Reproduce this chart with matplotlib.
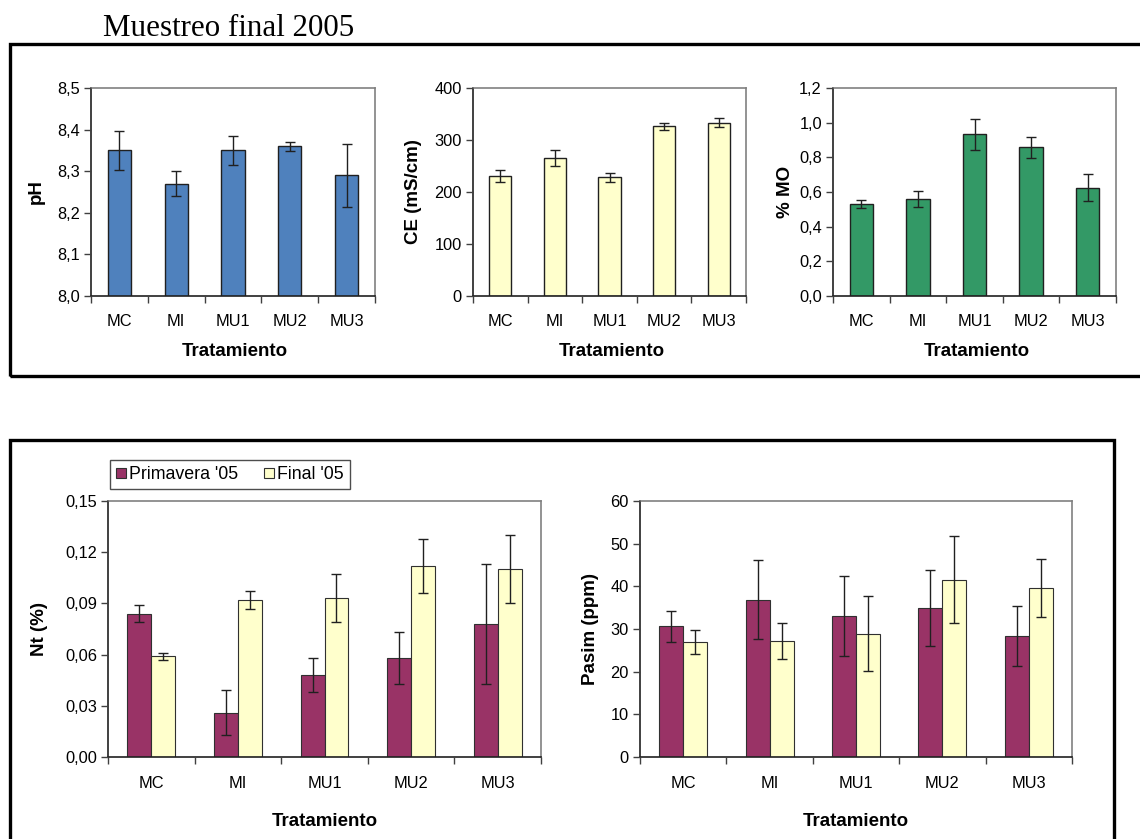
import matplotlib
matplotlib.use("Agg")
import matplotlib.pyplot as plt
from matplotlib.patches import Rectangle, Patch
from matplotlib.ticker import FixedLocator, FuncFormatter
import numpy as np

plt.rcParams['font.family'] = ['Liberation Sans', 'DejaVu Sans']

# ---------------- data ----------------
categories = ["MC", "MI", "MU1", "MU2", "MU3"]

ph_mean = [8.35, 8.27, 8.35, 8.36, 8.29]
ph_err = [0.047, 0.030, 0.035, 0.011, 0.076]

ce_mean = [230, 265, 228, 326, 333]
ce_err = [11.5, 15, 8, 7, 8.5]

mo_mean = [0.532, 0.561, 0.932, 0.857, 0.624]
mo_err = [0.024, 0.046, 0.089, 0.060, 0.078]

nt_prim = [0.084, 0.026, 0.048, 0.058, 0.078]
nt_prim_err = [0.005, 0.013, 0.010, 0.015, 0.035]
nt_final = [0.059, 0.092, 0.093, 0.112, 0.110]
nt_final_err = [0.002, 0.005, 0.014, 0.016, 0.020]

p_prim = [30.6, 36.9, 33.1, 34.9, 28.4]
p_prim_err = [3.7, 9.35, 9.4, 9.0, 7.0]
p_final = [26.9, 27.2, 28.9, 41.6, 39.6]
p_final_err = [2.85, 4.15, 8.85, 10.2, 6.7]

title_text = "Muestreo final 2005"
xlabel_text = "Tratamiento"
legend_labels = ["Primavera '05", "Final '05"]

# ---------------- style ----------------
W, H = 1140, 839
DPI = 100
C_BLUE = "#4F81BD"
C_YEL = "#FFFFCC"
C_GREEN = "#339966"
C_PLUM = "#993366"
TICK_FS = 11.8
LAB_FS = 13.5

fig = plt.figure(figsize=(W / DPI, H / DPI), dpi=DPI)


def rect(l, r, t, b):
    return [l / W, 1 - b / H, (r - l) / W, (b - t) / H]


def fx(x):
    return x / W


def fy(y):
    return 1 - y / H


def comma_fmt(dec):
    def f(v, pos):
        s = f"{v:.{dec}f}"
        return s.replace(".", ",")
    return FuncFormatter(f)


def style_axes(ax, yticks, dec):
    n = len(categories)
    ax.set_xlim(0.5, n + 0.5)
    ax.set_ylim(yticks[0], yticks[-1])
    ax.yaxis.set_major_locator(FixedLocator(yticks))
    ax.yaxis.set_major_formatter(comma_fmt(dec))
    ax.set_xticks(range(1, n + 1))
    ax.set_xticklabels(categories)
    ax.set_xticks(np.arange(0.5, n + 1.0, 1.0), minor=True)
    ax.tick_params(axis='x', which='major', length=0, pad=13, labelsize=TICK_FS)
    ax.tick_params(axis='x', which='minor', length=5, width=1, color='#404040', direction='out')
    ax.tick_params(axis='y', which='major', length=5, width=1, color='#404040',
                   direction='out', pad=3, labelsize=TICK_FS)
    for s in ['top', 'right']:
        ax.spines[s].set_color('#808080')
        ax.spines[s].set_linewidth(1.2)
    for s in ['left', 'bottom']:
        ax.spines[s].set_color('#202020')
        ax.spines[s].set_linewidth(1.2)
    ax.set_axisbelow(False)


ekw = dict(ecolor='#202020', elinewidth=1, capsize=3.5, capthick=1)

# ---------------- frames ----------------
fig.patches.append(Rectangle((fx(10), fy(376)), fx(1160) - fx(10), fy(44) - fy(376),
                             transform=fig.transFigure, fill=False, lw=2.4,
                             edgecolor='black', zorder=0))
fig.patches.append(Rectangle((fx(10), fy(860)), fx(1114) - fx(10), fy(440) - fy(860),
                             transform=fig.transFigure, fill=False, lw=2.4,
                             edgecolor='black', zorder=0))

fig.text(fx(103), fy(36), title_text, family='Liberation Serif', fontsize=22.3,
         ha='left', va='baseline')

x = np.arange(1, len(categories) + 1)

# ---------------- top panels ----------------
top_specs = [
    (91, 375, ph_mean, ph_err, C_BLUE, [8.0, 8.1, 8.2, 8.3, 8.4, 8.5], 1, "pH", 36),
    (473, 746, ce_mean, ce_err, C_YEL, [0, 100, 200, 300, 400], 0, "CE (mS/cm)", 414),
    (833, 1116, mo_mean, mo_err, C_GREEN, [0.0, 0.2, 0.4, 0.6, 0.8, 1.0, 1.2], 1, "% MO", 785),
]
for l, r, vals, errs, col, yt, dec, ylab, ylx in top_specs:
    ax = fig.add_axes(rect(l, r, 88, 296))
    ax.bar(x, vals, width=0.41, color=col, edgecolor='#202020', linewidth=1,
           yerr=errs, error_kw=ekw, zorder=2)
    style_axes(ax, yt, dec)
    fig.text(fx((l + r) / 2 + 2), fy(352), xlabel_text, fontsize=LAB_FS,
             fontweight='bold', ha='center', va='center')
    fig.text(fx(ylx), fy(192), ylab, fontsize=LAB_FS, fontweight='bold',
             ha='center', va='center', rotation=90)

# ---------------- bottom panels ----------------
bw = 0.277
bot_specs = [
    (108, 541, nt_prim, nt_prim_err, nt_final, nt_final_err,
     [0.0, 0.03, 0.06, 0.09, 0.12, 0.15], 2, "Nt (%)", 40),
    (640, 1072, p_prim, p_prim_err, p_final, p_final_err,
     [0, 10, 20, 30, 40, 50, 60], 0, "Pasim (ppm)", 590),
]
for l, r, v1, e1, v2, e2, yt, dec, ylab, ylx in bot_specs:
    ax = fig.add_axes(rect(l, r, 501, 757))
    ax.bar(x - bw / 2, v1, width=bw, color=C_PLUM, edgecolor='#303030', linewidth=0.8,
           yerr=e1, error_kw=ekw, zorder=2)
    ax.bar(x + bw / 2, v2, width=bw, color=C_YEL, edgecolor='#303030', linewidth=0.8,
           yerr=e2, error_kw=ekw, zorder=2)
    style_axes(ax, yt, dec)
    ax.tick_params(axis='x', which='major', pad=14)
    fig.text(fx((l + r) / 2), fy(822), xlabel_text, fontsize=LAB_FS,
             fontweight='bold', ha='center', va='center')
    fig.text(fx(ylx), fy(629), ylab, fontsize=LAB_FS, fontweight='bold',
             ha='center', va='center', rotation=90)

handles = [Patch(facecolor=C_PLUM, edgecolor='#303030', linewidth=0.8),
           Patch(facecolor=C_YEL, edgecolor='#303030', linewidth=0.8)]
leg = fig.legend(handles, legend_labels, loc='upper left',
                 bbox_to_anchor=(fx(110), fy(460)), ncol=2, fontsize=12.8,
                 frameon=True, fancybox=False, handlelength=0.55, handleheight=0.55,
                 handletextpad=0.15, columnspacing=1.5, borderpad=0.35,
                 borderaxespad=0)
leg.get_frame().set_edgecolor('#202020')
leg.get_frame().set_linewidth(1)

fig.savefig("out.png", dpi=DPI)
